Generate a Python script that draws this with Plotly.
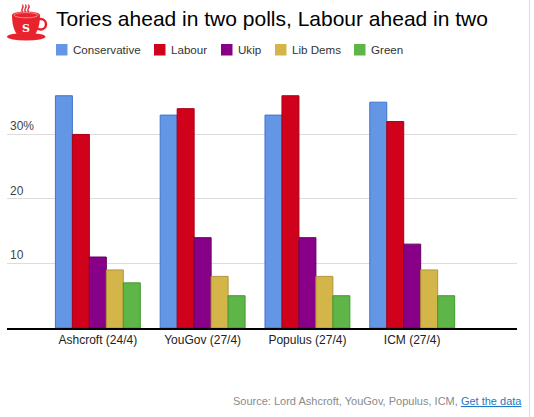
import plotly.graph_objects as go

# ---- data ----
polls = ["Ashcroft (24/4)", "YouGov (27/4)", "Populus (27/4)", "ICM (27/4)"]
conservative = [36, 33, 33, 35]
labour = [30, 34, 36, 32]
ukip = [11, 14, 14, 13]
lib_dems = [9, 8, 8, 9]
green = [7, 5, 5, 5]
series_names = ["Conservative", "Labour", "Ukip", "Lib Dems", "Green"]
y_tick_vals = [10, 20, 30]
y_tick_text = ["10", "20", "30%"]

# ---- style ----
fills = ["#6496e6", "#d0021b", "#880088", "#d4b54a", "#5db647"]
edges = ["#3f73cc", "#a80016", "#640064", "#b0963a", "#3f9a2c"]
legend_x = [56, 154, 221, 275, 354]  # pixel positions of legend squares

W, H = 534, 417
ML, MR, MT, MB = 7, 17, 88, 89
PW, PH = W - ML - MR, H - MT - MB


def px(X):
    return (X - ML) / PW


def py(Y):
    return (H - MB - Y) / PH


def P(X, Y):
    return f"{px(X):.5f},{py(Y):.5f}"


series = [conservative, labour, ukip, lib_dems, green]
fig = go.Figure()
for name, vals, fc, ec in zip(series_names, series, fills, edges):
    fig.add_trace(go.Bar(
        x=polls, y=vals, name=name,
        marker=dict(color=fc, line=dict(color=ec, width=1)),
        showlegend=False, hoverinfo="x+y+name",
    ))

shapes = []
annotations = []

# custom legend
for name, fc, ec, lx in zip(series_names, fills, edges, legend_x):
    shapes.append(dict(type="rect", xref="paper", yref="paper",
                       x0=px(lx), x1=px(lx + 11.5), y0=py(55.5), y1=py(44),
                       fillcolor=fc, line=dict(width=0)))
    annotations.append(dict(text=name, xref="paper", yref="paper",
                            x=px(lx + 14.5), y=py(49.7), xanchor="left", yanchor="middle",
                            showarrow=False, font=dict(size=11.6, color="#333")))

# title
annotations.append(dict(text="Tories ahead in two polls, Labour ahead in two",
                        xref="paper", yref="paper", x=px(54), y=py(18.5),
                        xanchor="left", yanchor="middle", showarrow=False,
                        font=dict(size=21, color="#000")))

# source
annotations.append(dict(
    text="Source: Lord Ashcroft, YouGov, Populus, ICM, "
         "<span style='color:#1f78c8'><u>Get the data</u></span>",
    xref="paper", yref="paper", x=px(524), y=py(400.5),
    xanchor="right", yanchor="middle", showarrow=False,
    font=dict(size=11, color="#8a8a8a")))

# logo (teacup)
red = "#e8232d"
shapes.append(dict(type="circle", xref="paper", yref="paper",
                   x0=px(7), x1=px(45.5), y0=py(40.5), y1=py(33),
                   fillcolor=red, line=dict(width=0)))
shapes.append(dict(type="circle", xref="paper", yref="paper",
                   x0=px(35.5), x1=px(46), y0=py(29.5), y1=py(19),
                   fillcolor="rgba(0,0,0,0)", line=dict(color=red, width=2.5)))
shapes.append(dict(type="path", xref="paper", yref="paper",
                   path=(f"M{P(12,15)} C{P(12,28)} {P(16,35)} {P(20,36.5)} "
                         f"L{P(32,36.5)} C{P(36,35)} {P(40,28)} {P(40,15)} Z"),
                   fillcolor=red, line=dict(width=0)))
shapes.append(dict(type="circle", xref="paper", yref="paper",
                   x0=px(12), x1=px(40), y0=py(19), y1=py(11.5),
                   fillcolor=red, line=dict(width=0)))
shapes.append(dict(type="circle", xref="paper", yref="paper",
                   x0=px(14), x1=px(38), y0=py(17.8), y1=py(12.6),
                   fillcolor="rgba(0,0,0,0)", line=dict(color="#f7a0a4", width=0.8)))
for sx in [22.5, 25.5, 28.5]:
    shapes.append(dict(type="path", xref="paper", yref="paper",
                       path=f"M{P(sx,12)} Q{P(sx-1.2,9.5)} {P(sx,8)} T{P(sx,4.5)}",
                       line=dict(color=red, width=1.3)))
annotations.append(dict(text="<b>S</b>", xref="paper", yref="paper",
                        x=px(26), y=py(28.5), xanchor="center", yanchor="middle",
                        showarrow=False,
                        font=dict(size=11, color="white", family="DejaVu Serif")))

# page border on right
shapes.append(dict(type="line", xref="paper", yref="paper",
                   x0=px(529.5), x1=px(529.5), y0=py(0), y1=py(H),
                   line=dict(color="#dcdcdc", width=1)))

fig.update_layout(
    width=W, height=H, autosize=False,
    margin=dict(l=ML, r=MR, t=MT, b=MB, pad=0),
    paper_bgcolor="white", plot_bgcolor="white",
    font=dict(family="Liberation Sans, Arial, sans-serif", size=12, color="#222"),
    barmode="group", bargap=0.19, bargroupgap=0,
    shapes=shapes, annotations=annotations,
    showlegend=False,
    xaxis=dict(type="category", range=[-0.867, 4.0], showgrid=False,
               showline=True, linecolor="#000", linewidth=1.5,
               ticks="", tickfont=dict(size=12, color="#222"), fixedrange=True),
    yaxis=dict(range=[0, 37.2], tickvals=y_tick_vals, ticktext=y_tick_text,
               showgrid=True, gridcolor="#dcdcdc", gridwidth=1,
               zeroline=False, showline=False, ticks="",
               ticklabelposition="inside top",
               tickfont=dict(size=12, color="#444"), fixedrange=True),
)

fig.write_html(
    "out.html",
    config={"displayModeBar": False},
    post_script="document.body.style.margin='0';document.body.style.overflow='hidden';",
)
